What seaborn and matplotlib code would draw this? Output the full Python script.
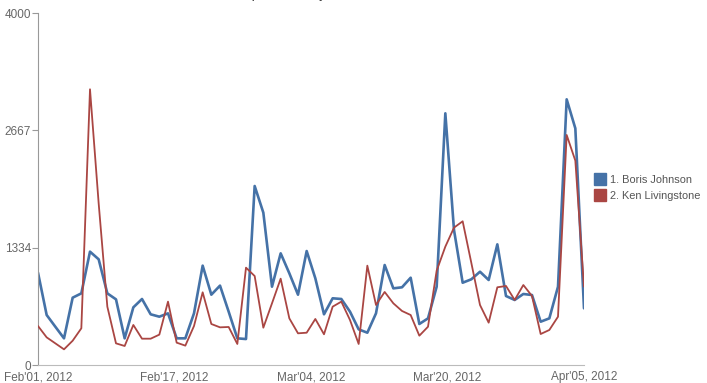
import numpy as np
import pandas as pd
import matplotlib
matplotlib.use("Agg")
import matplotlib.pyplot as plt
import matplotlib.dates as mdates
from matplotlib.lines import Line2D
import seaborn as sns

# ---- data ----
start_date = "2012-02-01"
series_names = ["1. Boris Johnson", "2. Ken Livingstone"]
boris = [1049, 568, 435, 303, 765, 814, 1288, 1201, 814, 746,
         303, 655, 750, 576, 549, 587, 303, 303, 587, 1129,
         799, 902, 606, 303, 295, 2034, 1731, 890, 1269, 1042,
         799, 1295, 985, 576, 758, 750, 606, 405, 367, 587,
         1136, 871, 883, 992, 466, 530, 890, 2860, 1534, 935,
         974, 1060, 966, 1371, 784, 739, 807, 795, 492, 530,
         890, 3019, 2689, 644]
ken = [443, 314, 246, 178, 276, 417, 3133, 1837, 663, 246,
       216, 455, 299, 299, 345, 720, 254, 220, 443, 826,
       466, 428, 432, 239, 1106, 1011, 424, 701, 981, 530,
       360, 367, 523, 349, 663, 720, 511, 239, 1129, 682,
       830, 701, 614, 568, 333, 435, 1072, 1345, 1561, 1633,
       1160, 682, 481, 883, 898, 739, 909, 784, 352, 398,
       549, 2614, 2322, 890]
y_ticks = [0, 1334, 2667, 4000]
x_tick_labels = ["Feb'01, 2012", "Feb'17, 2012", "Mar'04, 2012",
                 "Mar'20, 2012", "Apr'05, 2012"]
title_text = "Impressions by candidate"
colors = ["#4572A7", "#AA4643"]

dates = pd.date_range(start_date, periods=len(boris), freq="D")
df = pd.DataFrame({
    "date": np.concatenate([dates, dates]),
    "value": boris + ken,
    "candidate": [series_names[0]] * len(boris) + [series_names[1]] * len(ken),
})

sns.set_style("white")
plt.rcParams["font.family"] = ["Liberation Sans", "DejaVu Sans"]

fig = plt.figure(figsize=(7.07, 3.83), dpi=100)
ax = fig.add_axes([38 / 707, 18 / 383, 546 / 707, 352 / 383])

sns.lineplot(data=df, x="date", y="value", hue="candidate",
             palette=colors, ax=ax, legend=False, estimator=None)
lines = ax.get_lines()
lines[0].set_linewidth(1.9)
lines[1].set_linewidth(1.3)
lines[1].set_zorder(3)
lines[0].set_zorder(2)

ax.set_ylim(0, 4000)
ax.set_yticks(y_ticks)
ax.set_yticklabels([str(t) for t in y_ticks])
d0 = mdates.date2num(dates[0])
d1 = mdates.date2num(dates[-1])
ax.set_xlim(d0, d1)
ax.set_xticks(np.linspace(d0, d1, len(x_tick_labels)))
ax.set_xticklabels(x_tick_labels)
ax.set_xlabel("")
ax.set_ylabel("")

for s in ["top", "right"]:
    ax.spines[s].set_visible(False)
ax.spines["left"].set_color("#999999")
ax.spines["bottom"].set_color("#bbbbbb")
ax.spines["left"].set_linewidth(0.8)
ax.spines["bottom"].set_linewidth(0.8)
ax.tick_params(axis="y", length=4, width=0.8, color="#999999",
               labelcolor="#666666", labelsize=8.5, pad=1, left=True)
ax.tick_params(axis="x", length=0, labelcolor="#666666", labelsize=8.5, pad=4.5)

handles = [Line2D([0], [0], marker="s", linestyle="none", markersize=8.5,
                  markerfacecolor=c, markeredgecolor=c) for c in colors]
fig.legend(handles, series_names, loc="center left",
           bbox_to_anchor=(589 / 707, 1 - 188 / 383), frameon=False,
           fontsize=7.9, labelcolor="#555555", handletextpad=0.3,
           labelspacing=0.55, borderaxespad=0, handlelength=1.2)

fig.text(312 / 707, 1 + 2.0 / 383, title_text, ha="center", va="baseline",
         fontsize=9.5, color="#333333")

fig.savefig("out.png", dpi=100)
